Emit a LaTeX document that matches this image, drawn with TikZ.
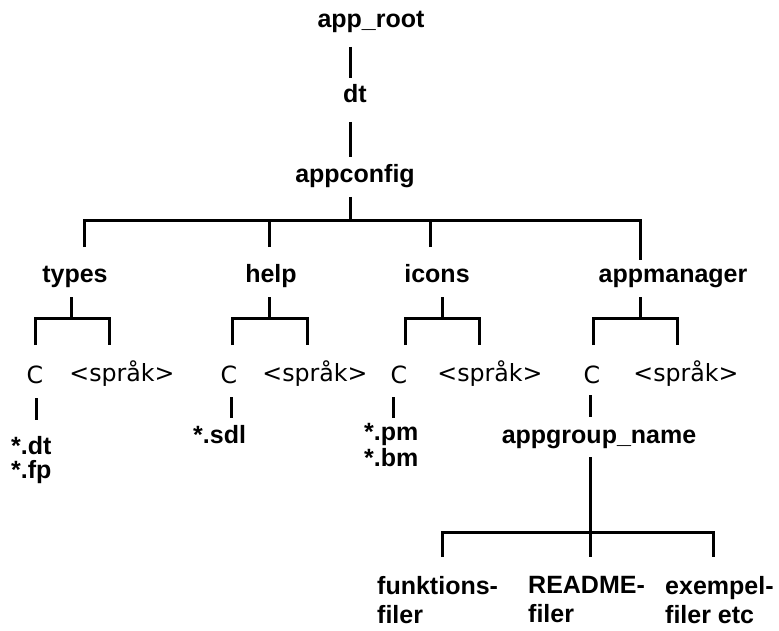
\documentclass[tikz,border=0pt]{standalone}
\usepackage{fontspec}
\setmainfont{DejaVu Sans}
\newfontfamily\labfont{Liberation Sans}
\begin{document}
\begin{tikzpicture}[x=1pt,y=-1pt,
  lbl/.style={inner sep=0pt, font=\labfont\bfseries\fontsize{25}{25}\selectfont, anchor=base},
  multi/.style={inner sep=0pt, anchor=north west, align=left},
  thin/.style={inner sep=0pt, font=\fontsize{23.7}{25}\selectfont, anchor=base},
  conn/.style={line width=3pt, line join=miter, draw=black}]
\useasboundingbox (0,0) rectangle (779,631);

% ---------- labels ----------
\node[lbl] (approot) at (371,28) {app\_root};
\node[lbl] (dt) at (355,103) {dt};
\node[lbl] (appconfig) at (355,183) {appconfig};

\node[lbl] (types) at (75,282) {types};
\node[lbl] (help) at (271,282) {help};
\node[lbl] (icons) at (437,282) {icons};
\node[lbl] (appmanager) at (673,282) {appmanager};

\node[thin] (tC) at (35,383) {C};
\node[thin] (tS) at (122,381) {<språk>};
\node[thin] (hC) at (229,383) {C};
\node[thin] (hS) at (315,381) {<språk>};
\node[thin] (iC) at (399,383) {C};
\node[thin] (iS) at (490,381) {<språk>};
\node[thin] (aC) at (592,383) {C};
\node[thin] (aS) at (686,381) {<språk>};

\node[multi, font=\labfont\bfseries\fontsize{25}{24}\selectfont] (tfiles) at (11,436) {*.dt\\*.fp};
\node[lbl, anchor=base west] (hfiles) at (193,443) {*.sdl};
\node[multi, font=\labfont\bfseries\fontsize{25}{26}\selectfont] (ifiles) at (364,423) {*.pm\\*.bm};
\node[lbl] (appgroup) at (599,443) {appgroup\_name};

\node[multi, font=\labfont\bfseries\fontsize{25}{29}\selectfont] (funk) at (377,576) {funktions-\\filer};
\node[multi, font=\labfont\bfseries\fontsize{25}{29}\selectfont] (readme) at (528,576) {README-\\filer};
\node[multi, font=\labfont\bfseries\fontsize{25}{29}\selectfont] (exempel) at (665,576) {exempel-\\filer etc};

% ---------- connector points ----------
\coordinate (rt1) at (350,47);  \coordinate (rt2) at (350,78);
\coordinate (dt1) at (350,122); \coordinate (dt2) at (350,157);
\coordinate (ac1) at (350,197); \coordinate (busM) at (350,221);
\coordinate (busL) at (84,221); \coordinate (busR) at (640,221);
\coordinate (tyTop) at (84,247); \coordinate (hTop) at (269,247);
\coordinate (iTop) at (430,247); \coordinate (amTop) at (640,260);

% top chain
\draw[conn] (rt1) -- (rt2);
\draw[conn] (dt1) -- (dt2);
\draw[conn] (ac1) -- (busM);
\draw[conn] (tyTop) -- (busL) -- (busR) -- (amTop);
\draw[conn] (hTop) -- (hTop |- busM);
\draw[conn] (iTop) -- (iTop |- busM);

% subtrees: stem, bar, drops
\coordinate (tsA) at (71,297);  \coordinate (tsB) at (71,318);
\coordinate (tl) at (35,345);   \coordinate (tr) at (109,345);
\draw[conn] (tsA) -- (tsB);
\draw[conn] (tl) -- (tl |- tsB) -- (tr |- tsB) -- (tr);

\coordinate (hsA) at (269,297); \coordinate (hsB) at (269,318);
\coordinate (hl) at (232,345);  \coordinate (hr) at (307,345);
\draw[conn] (hsA) -- (hsB);
\draw[conn] (hl) -- (hl |- hsB) -- (hr |- hsB) -- (hr);

\coordinate (isA) at (442,297); \coordinate (isB) at (442,318);
\coordinate (il) at (405,345);  \coordinate (ir) at (479,345);
\draw[conn] (isA) -- (isB);
\draw[conn] (il) -- (il |- isB) -- (ir |- isB) -- (ir);

\coordinate (asA) at (640,297); \coordinate (asB) at (640,318);
\coordinate (al) at (593,345);  \coordinate (ar) at (677,345);
\draw[conn] (asA) -- (asB);
\draw[conn] (al) -- (al |- asB) -- (ar |- asB) -- (ar);

% C -> contents
\coordinate (tc1) at (36,398);  \coordinate (tc2) at (36,420);
\coordinate (hc1) at (231,397); \coordinate (hc2) at (231,418);
\coordinate (ic1) at (393,397); \coordinate (ic2) at (393,418);
\coordinate (ac1b) at (590,395); \coordinate (ac2b) at (590,417);
\draw[conn] (tc1) -- (tc2);
\draw[conn] (hc1) -- (hc2);
\draw[conn] (ic1) -- (ic2);
\draw[conn] (ac1b) -- (ac2b);

% appgroup_name subtree
\coordinate (ag1) at (590,457); \coordinate (ag2) at (590,557);
\coordinate (fl) at (442,557);  \coordinate (fr) at (713,557);
\coordinate (gbus) at (590,532);
\draw[conn] (ag1) -- (ag2);
\draw[conn] (fl) -- (fl |- gbus) -- (fr |- gbus) -- (fr);
\end{tikzpicture}
\end{document}
